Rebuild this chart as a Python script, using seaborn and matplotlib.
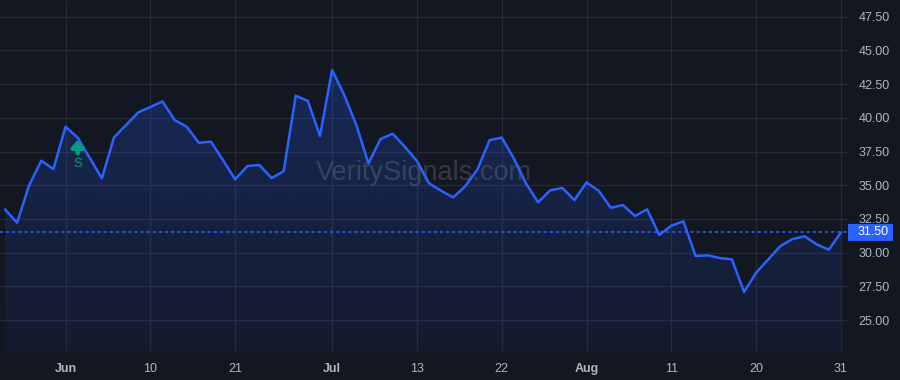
import numpy as np
import pandas as pd
import matplotlib
matplotlib.use("Agg")
import matplotlib.pyplot as plt
import seaborn as sns
from matplotlib.colors import LinearSegmentedColormap
from matplotlib.path import Path
from matplotlib.patches import PathPatch, FancyBboxPatch
from matplotlib.transforms import blended_transform_factory

# ---- data ----
holidays = ["2021-05-31", "2021-07-05"]
dates = [d for d in pd.bdate_range("2021-05-24", "2021-08-31") if d.strftime("%Y-%m-%d") not in holidays]
prices = [33.21, 32.22, 35.01, 36.82, 36.20, 39.34, 38.53, 37.02, 35.51, 38.55,
          39.47, 40.41, 40.80, 41.22, 39.84, 39.34, 38.15, 38.23, 36.85, 35.44,
          36.42, 36.50, 35.53, 36.03, 41.64, 41.25, 38.65, 43.55, 41.69, 39.47,
          36.62, 38.43, 38.82, 37.86, 36.80, 35.14, 34.59, 34.10, 34.94, 36.18,
          38.35, 38.53, 36.99, 35.14, 33.73, 34.62, 34.80, 33.90, 35.21, 34.59,
          33.33, 33.53, 32.72, 33.21, 31.31, 32.00, 32.32, 29.75, 29.80, 29.60,
          29.50, 27.08, 28.51, 29.50, 30.49, 31.01, 31.21, 30.61, 30.22, 31.50]
tick_dates = ["2021-06-01", "2021-06-10", "2021-06-21", "2021-07-01", "2021-07-13",
              "2021-07-22", "2021-08-02", "2021-08-11", "2021-08-20", "2021-08-31"]
tick_labels = ["Jun", "10", "21", "Jul", "13", "22", "Aug", "11", "20", "31"]
y_ticks = [25.0, 27.5, 30.0, 32.5, 35.0, 37.5, 40.0, 42.5, 45.0, 47.5]
last_price = 31.50
signal_date = "2021-06-02"
signal_label = "S"
watermark = "VeritySignals.com"

df = pd.DataFrame({"date": dates, "price": prices})
df["idx"] = np.arange(len(df))
date_to_idx = {d.strftime("%Y-%m-%d"): i for i, d in enumerate(df["date"])}

BG = "#131722"
GRID = "#262a36"
BLUE = "#2962ff"
TXT = "#b2b5be"
GREEN = "#089981"
FONT = ["Liberation Sans", "DejaVu Sans"]

sns.set_theme(style="dark")
plt.rcParams["font.family"] = FONT
fig = plt.figure(figsize=(9, 3.8), dpi=100, facecolor=BG)
ax = fig.add_axes([0, 28/380, 848/900, 352/380])
ax.set_facecolor(BG)

ymin, ymax = 22.63, 48.74
xmin, xmax = -0.41, 69.58
ax.set_xlim(xmin, xmax)
ax.set_ylim(ymin, ymax)

# gradient fill under line
x = df["idx"].values
y = df["price"].values
verts = [(x[0], ymin)] + list(zip(x, y)) + [(x[-1], ymin), (x[0], ymin)]
codes = [Path.MOVETO] + [Path.LINETO] * (len(verts) - 2) + [Path.CLOSEPOLY]
clip = PathPatch(Path(verts, codes), facecolor="none", edgecolor="none")
ax.add_patch(clip)
cmap = LinearSegmentedColormap.from_list("g", [(41/255, 98/255, 255/255, 0.05), (41/255, 98/255, 255/255, 0.25)])
grad = np.linspace(0, 1, 256).reshape(-1, 1)
im = ax.imshow(grad, cmap=cmap, aspect="auto", origin="lower",
               extent=[x[0], x[-1], ymin, max(y)], zorder=1)
im.set_clip_path(clip)

sns.lineplot(data=df, x="idx", y="price", ax=ax, color=BLUE, linewidth=1.8, zorder=3)

# last price dotted line
ax.axhline(last_price, color=BLUE, linestyle=(0, (2, 2)), linewidth=1.1, zorder=2)

# grid
ax.set_yticks(y_ticks)
ax.set_xticks([date_to_idx[d] for d in tick_dates])
ax.grid(True, color=GRID, linewidth=0.9)
ax.set_axisbelow(True)
for s in ax.spines.values():
    s.set_visible(False)
ax.set_xlabel("")
ax.set_ylabel("")

ax.yaxis.tick_right()
ax.set_yticklabels([f"{v:.2f}" for v in y_ticks])
ax.tick_params(axis="y", length=0, pad=7.5, labelsize=9, labelcolor=TXT)
ax.set_xticklabels(tick_labels)
ax.tick_params(axis="x", length=0, pad=8, labelsize=9, labelcolor=TXT)
for lab in ax.get_xticklabels():
    if lab.get_text() in ("Jun", "Jul", "Aug"):
        lab.set_fontweight("bold")

# price label on right axis
bt = blended_transform_factory(ax.transAxes, ax.transData)
ax_w_px = 848.0
px_y = (ymax - ymin) / 352.0
box = FancyBboxPatch((1.0, last_price - 8.5 * px_y), 45 / ax_w_px, 17 * px_y,
                     boxstyle="round,pad=0,rounding_size=0.002", transform=bt,
                     facecolor=BLUE, edgecolor="none", clip_on=False, zorder=5)
ax.add_patch(box)
ax.text(1.0 + 10 / ax_w_px, last_price, f"{last_price:.2f}", transform=bt, ha="left", va="center",
        fontsize=9, color="white", clip_on=False, zorder=6)

# watermark
ax.text(0.5, 0.508, watermark, transform=ax.transAxes, ha="center", va="center",
        fontsize=19.5, color="#787b86", alpha=0.35, zorder=2)

# signal marker
si = date_to_idx[signal_date]
sy = df["price"].iloc[si]
ax.annotate("", xy=(si, sy - 0.15), xytext=(si, sy - 1.15),
            arrowprops=dict(arrowstyle="-|>,head_width=0.3,head_length=0.35", color=GREEN, lw=3.2,
                            shrinkA=0, shrinkB=0),
            zorder=4)
ax.text(si, sy - 1.95, signal_label, ha="center", va="center", fontsize=9.5, color=GREEN, zorder=4)

fig.savefig("out.png", dpi=100, facecolor=BG)
